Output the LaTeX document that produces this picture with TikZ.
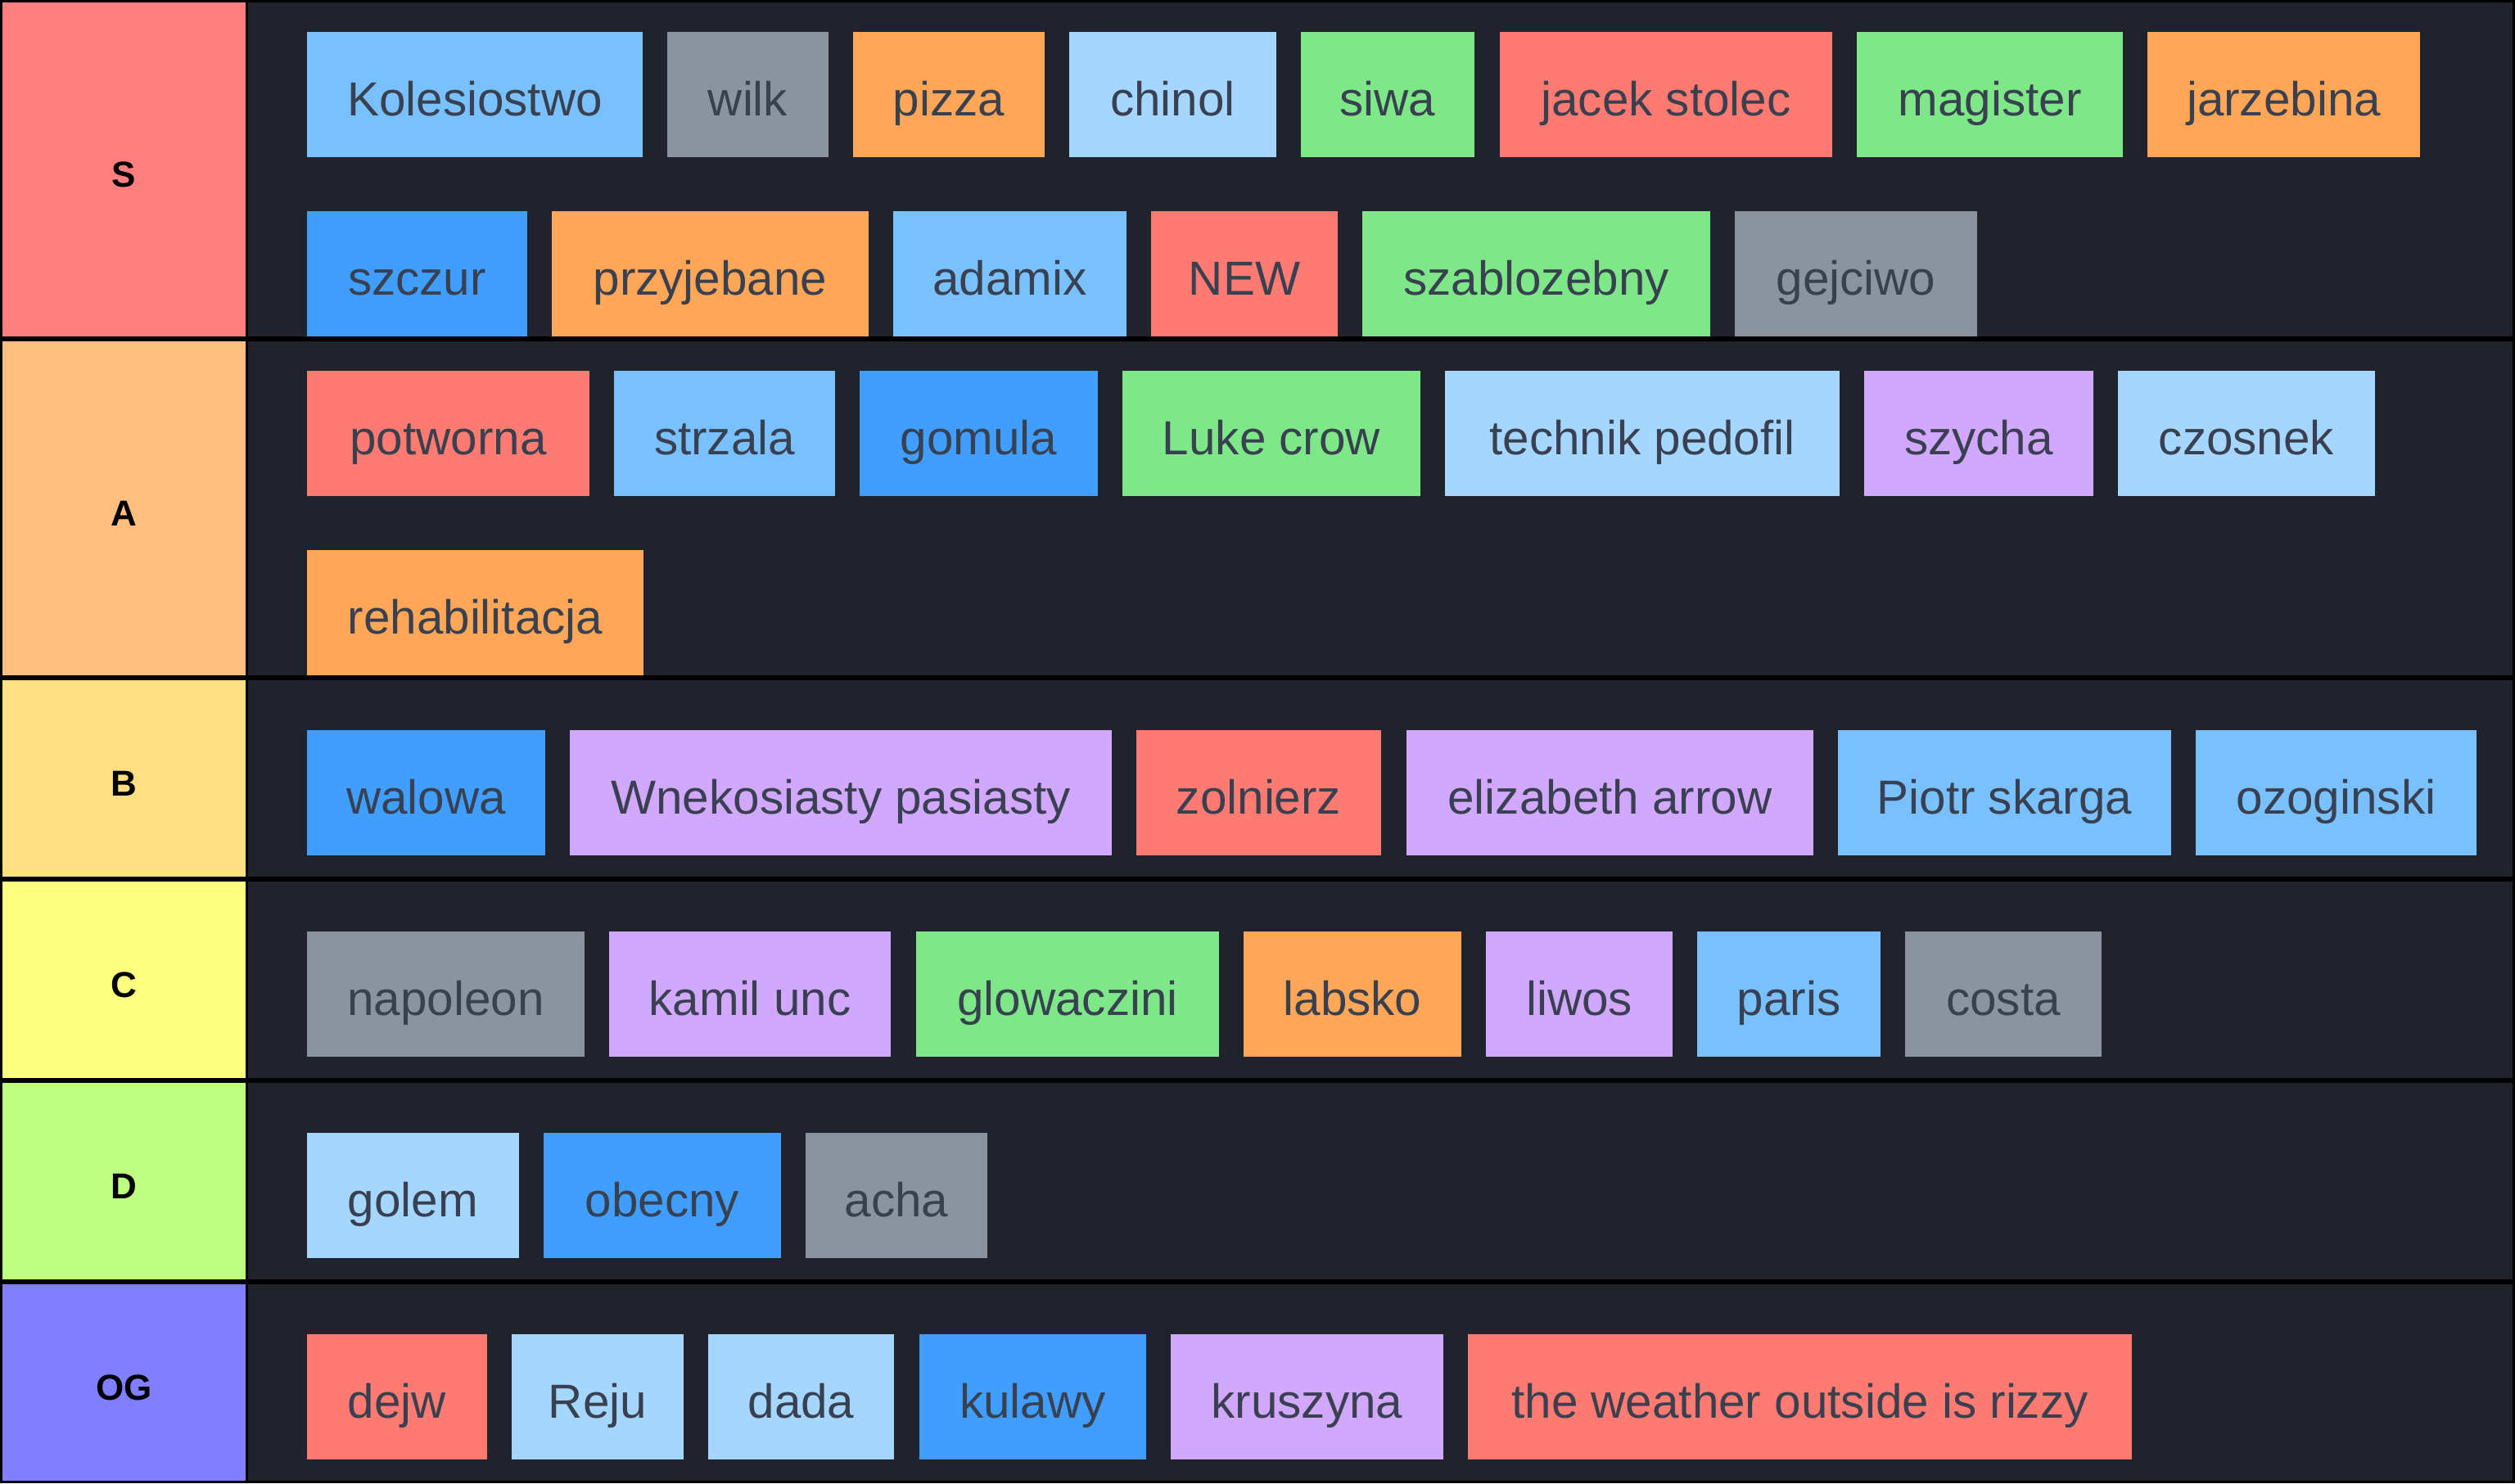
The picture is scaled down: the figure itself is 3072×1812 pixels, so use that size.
\documentclass[tikz,border=0pt]{standalone}
\usepackage{fontspec}
\setmainfont{Liberation Sans}
\definecolor{tierS}{HTML}{FF7F7F}
\definecolor{tierA}{HTML}{FFBF7F}
\definecolor{tierB}{HTML}{FFDF7F}
\definecolor{tierC}{HTML}{FFFF7F}
\definecolor{tierD}{HTML}{BFFF7F}
\definecolor{tierOG}{HTML}{7F7FFF}
\definecolor{rowbg}{HTML}{20232B}
\definecolor{cBlue}{HTML}{79C0FF}
\definecolor{cGray}{HTML}{8B949E}
\definecolor{cOrange}{HTML}{FFA657}
\definecolor{cLight}{HTML}{A5D6FF}
\definecolor{cGreen}{HTML}{7EE787}
\definecolor{cRed}{HTML}{FF7B72}
\definecolor{cPurple}{HTML}{D2A8FF}
\definecolor{cDeep}{HTML}{409EFF}
\definecolor{itemtext}{HTML}{394151}
\tikzset{
  tbx/.style={rectangle, inner sep=0pt, outer sep=0pt, minimum height=38.25pt,
    text=itemtext, font=\fontsize{14.6pt}{17pt}\selectfont,
    text height=13pt, text depth=0pt},
  tierlabel/.style={rectangle, inner sep=0pt, outer sep=0pt, minimum width=74.25pt,
    text=black, font=\fontsize{11pt}{13pt}\selectfont\bfseries,
    text height=10.5pt, text depth=0pt},
  rowpanel/.style={rectangle, inner sep=0pt, outer sep=0pt, fill=rowbg, minimum width=691.5pt}
}
\newcommand\tbox[6]{%
  \pgfmathsetmacro\tbw{(#3-#2)*0.25}%
  \node[tbx, fill=#5, minimum width=\tbw pt] (#1) at ({(#2+#3)/2}, {#4+76.5}) {#6};%
}
\newcommand\tierrow[5]{% #1 name, #2 top, #3 bottom, #4 colour, #5 label
  \pgfmathsetmacro\trh{(#3-#2)*0.25}%
  \node[tierlabel, fill=#4, minimum height=\trh pt] (lab#1) at (151.5, {(#2+#3)/2}) {#5};%
  \node[rowpanel, minimum height=\trh pt] (row#1) at (1686, {(#2+#3)/2}) {};%
}
\begin{document}
\begin{tikzpicture}[x=0.25pt, y=-0.25pt]
\useasboundingbox (0,0) rectangle (3072,1812);
\fill[black] (0,0) rectangle (3072,1812);
\tierrow{S}{3}{411}{tierS}{S}
\tierrow{A}{417}{825}{tierA}{A}
\tierrow{B}{831}{1071}{tierB}{B}
\tierrow{C}{1077}{1317}{tierC}{C}
\tierrow{D}{1323}{1563}{tierD}{D}
\tierrow{OG}{1569}{1809}{tierOG}{OG}
% S tier
\tbox{s1}{375}{785}{39}{cBlue}{Kolesiostwo}
\tbox{s2}{815}{1012}{39}{cGray}{wilk}
\tbox{s3}{1042}{1276}{39}{cOrange}{pizza}
\tbox{s4}{1306}{1559}{39}{cLight}{chinol}
\tbox{s5}{1589}{1801}{39}{cGreen}{siwa}
\tbox{s6}{1832}{2238}{39}{cRed}{jacek stolec}
\tbox{s7}{2268}{2593}{39}{cGreen}{magister}
\tbox{s8}{2623}{2956}{39}{cOrange}{jarzebina}
\tbox{s9}{375}{644}{258}{cDeep}{szczur}
\tbox{s10}{674}{1061}{258}{cOrange}{przyjebane}
\tbox{s11}{1091}{1376}{258}{cBlue}{adamix}
\tbox{s12}{1406}{1634}{258}{cRed}{NEW}
\tbox{s13}{1664}{2089}{258}{cGreen}{szablozebny}
\tbox{s14}{2119}{2415}{258}{cGray}{gejciwo}
% A tier
\tbox{a1}{375}{720}{453}{cRed}{potworna}
\tbox{a2}{750}{1020}{453}{cBlue}{strzala}
\tbox{a3}{1050}{1341}{453}{cDeep}{gomula}
\tbox{a4}{1371}{1735}{453}{cGreen}{Luke crow}
\tbox{a5}{1765}{2247}{453}{cLight}{technik pedofil}
\tbox{a6}{2277}{2557}{453}{cPurple}{szycha}
\tbox{a7}{2587}{2901}{453}{cLight}{czosnek}
\tbox{a8}{375}{786}{672}{cOrange}{rehabilitacja}
% B tier
\tbox{b1}{375}{666}{892}{cDeep}{walowa}
\tbox{b2}{696}{1358}{892}{cPurple}{Wnekosiasty pasiasty}
\tbox{b3}{1388}{1687}{892}{cRed}{zolnierz}
\tbox{b4}{1718}{2215}{892}{cPurple}{elizabeth arrow}
\tbox{b5}{2245}{2652}{892}{cBlue}{Piotr skarga}
\tbox{b6}{2682}{3025}{892}{cBlue}{ozoginski}
% C tier
\tbox{c1}{375}{714}{1138}{cGray}{napoleon}
\tbox{c2}{744}{1088}{1138}{cPurple}{kamil unc}
\tbox{c3}{1119}{1489}{1138}{cGreen}{glowaczini}
\tbox{c4}{1519}{1785}{1138}{cOrange}{labsko}
\tbox{c5}{1815}{2043}{1138}{cPurple}{liwos}
\tbox{c6}{2073}{2297}{1138}{cBlue}{paris}
\tbox{c7}{2327}{2567}{1138}{cGray}{costa}
% D tier
\tbox{d1}{375}{634}{1384}{cLight}{golem}
\tbox{d2}{664}{954}{1384}{cDeep}{obecny}
\tbox{d3}{984}{1206}{1384}{cGray}{acha}
% OG tier
\tbox{o1}{375}{595}{1630}{cRed}{dejw}
\tbox{o2}{625}{835}{1630}{cLight}{Reju}
\tbox{o3}{865}{1092}{1630}{cLight}{dada}
\tbox{o4}{1123}{1400}{1630}{cDeep}{kulawy}
\tbox{o5}{1430}{1763}{1630}{cPurple}{kruszyna}
\tbox{o6}{1793}{2604}{1630}{cRed}{the weather outside is rizzy}
\end{tikzpicture}
\end{document}
